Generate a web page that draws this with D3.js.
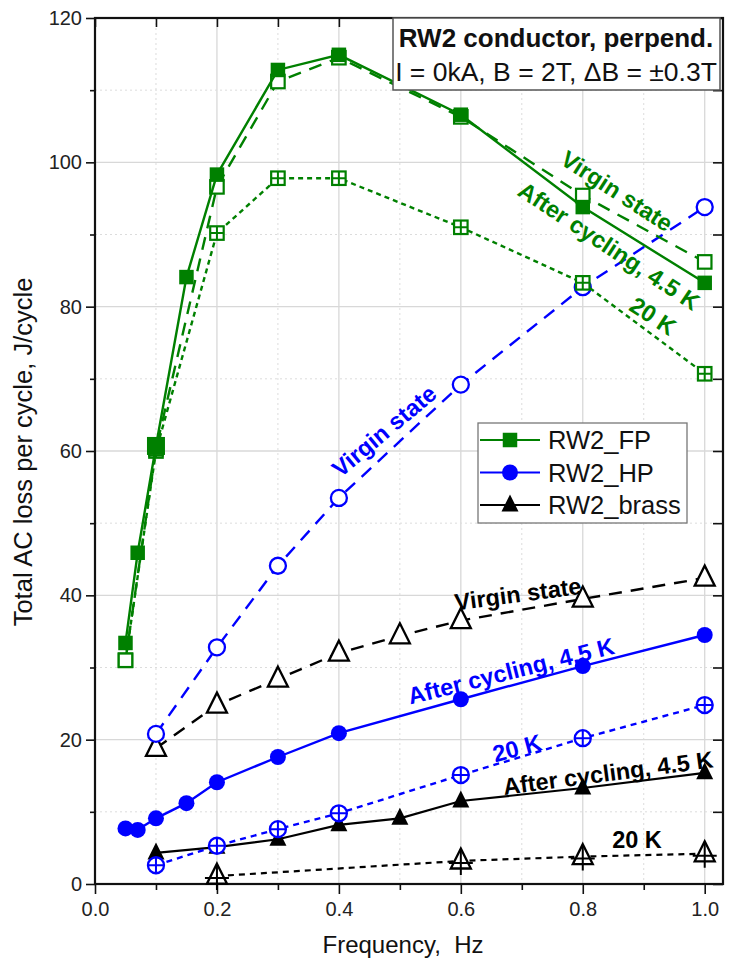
<!DOCTYPE html>
<html><head><meta charset="utf-8">
<script src="https://cdn.jsdelivr.net/npm/d3@7"></script>
<style>
html,body{margin:0;padding:0;background:#fff;}
svg text{font-family:"Liberation Sans",Arial,sans-serif;}
</style></head>
<body><svg id="c" width="730" height="968"></svg>
<script>
// ---- data ----
const fpAfterX   = [0.05,0.07,0.1,0.15,0.2,0.3,0.4,0.6,0.8,1.0];
const fpAfterY   = [33.4,45.9,60.7,84.1,98.3,112.8,114.9,106.6,93.8,83.3];
const fpVirginX  = [0.05,0.1,0.2,0.3,0.4,0.6,0.8,1.0];
const fpVirginY  = [31.0,60.3,96.6,111.2,114.5,106.3,95.4,86.2];
const fp20X      = [0.05,0.1,0.2,0.3,0.4,0.6,0.8,1.0];
const fp20Y      = [31.0,60.0,90.2,97.8,97.8,91.0,83.3,70.7];

const hpAfterX   = [0.05,0.07,0.1,0.15,0.2,0.3,0.4,0.6,0.8,1.0];
const hpAfterY   = [7.7,7.5,9.1,11.2,14.1,17.6,20.9,25.6,30.2,34.5];
const hpVirginX  = [0.1,0.2,0.3,0.4,0.6,0.8,1.0];
const hpVirginY  = [20.8,32.8,44.1,53.5,69.2,82.7,93.8];
const hp20X      = [0.1,0.2,0.3,0.4,0.6,0.8,1.0];
const hp20Y      = [2.6,5.3,7.6,9.8,15.1,20.2,24.8];

const brAfterX   = [0.1,0.2,0.3,0.4,0.5,0.6,0.8,1.0];
const brAfterY   = [4.3,5.1,6.2,8.2,9.1,11.5,13.3,15.4];
const brVirginX  = [0.1,0.2,0.3,0.4,0.5,0.6,0.8,1.0];
const brVirginY  = [18.8,24.8,28.4,32.0,34.4,36.5,39.5,42.4];
const br20X      = [0.2,0.6,0.8,1.0];
const br20Y      = [1.1,3.2,3.8,4.2];

const xMajorTicks = [0,0.2,0.4,0.6,0.8,1.0];
const xMinorTicks = [0.1,0.3,0.5,0.7,0.9];
const yMajorTicks = [0,20,40,60,80,100,120];
const yMinorTicks = [10,30,50,70,90,110];
const legendLabels = ["RW2_FP","RW2_HP","RW2_brass"];

// ---- layout ----
const svg = d3.select("#c");
const L=95, R=723, T=18, B=884;
const x = d3.scaleLinear().domain([0,1.03]).range([L,R]);
const y = d3.scaleLinear().domain([0,120]).range([B,T]);
const GREEN="#008000", BLUE="#0000ff", BLACK="#000";

// grid
const g = svg.append("g");
g.selectAll(".vmaj").data(xMajorTicks.filter(d=>d>0)).join("line")
  .attr("x1",d=>x(d)).attr("x2",d=>x(d)).attr("y1",T).attr("y2",B)
  .attr("stroke","#d8d8d8").attr("stroke-width",1.3);
g.selectAll(".vmin").data(xMinorTicks).join("line")
  .attr("x1",d=>x(d)).attr("x2",d=>x(d)).attr("y1",T).attr("y2",B)
  .attr("stroke","#dcdcdc").attr("stroke-width",1).attr("stroke-dasharray","2,3");
g.selectAll(".hmaj").data(yMajorTicks.filter(d=>d>0&&d<120)).join("line")
  .attr("y1",d=>y(d)).attr("y2",d=>y(d)).attr("x1",L).attr("x2",R)
  .attr("stroke","#d8d8d8").attr("stroke-width",1.3);
g.selectAll(".hmin").data(yMinorTicks).join("line")
  .attr("y1",d=>y(d)).attr("y2",d=>y(d)).attr("x1",L).attr("x2",R)
  .attr("stroke","#dcdcdc").attr("stroke-width",1).attr("stroke-dasharray","2,3");

// axes
const fmt = d3.format(".1f");
const axB = svg.append("g").attr("transform",`translate(0,${B})`)
  .call(d3.axisBottom(x).tickValues(xMajorTicks).tickFormat(fmt).tickSize(10).tickPadding(8));
svg.append("g").attr("transform",`translate(0,${B})`)
  .call(d3.axisBottom(x).tickValues(xMinorTicks).tickFormat("").tickSize(6));
const axL = svg.append("g").attr("transform",`translate(${L},0)`)
  .call(d3.axisLeft(y).tickValues(yMajorTicks).tickFormat(d3.format("d")).tickSize(9).tickPadding(4));
svg.append("g").attr("transform",`translate(${L},0)`)
  .call(d3.axisLeft(y).tickValues(yMinorTicks).tickFormat("").tickSize(5));
svg.append("g").attr("transform",`translate(0,${T})`)
  .call(d3.axisBottom(x).tickValues(xMajorTicks.concat(xMinorTicks)).tickFormat("").tickSize(9));
svg.append("g").attr("transform",`translate(${R},0)`)
  .call(d3.axisLeft(y).tickValues(yMajorTicks.concat(yMinorTicks)).tickFormat("").tickSize(10));
svg.selectAll(".domain").remove();
svg.selectAll(".tick line").attr("stroke","#111").attr("stroke-width",1.6);
axB.selectAll("text").attr("font-size",20).attr("fill","#222");
axL.selectAll("text").attr("font-size",20).attr("fill","#222");
svg.append("rect").attr("x",L).attr("y",T).attr("width",R-L).attr("height",B-T)
  .attr("fill","none").attr("stroke","#111").attr("stroke-width",2.2);

// axis titles
svg.append("text").attr("x",(L+R)/2-6).attr("y",953).attr("text-anchor","middle")
  .style("white-space","pre").attr("font-size",24).attr("fill","#111").text("Frequency,  Hz");
svg.append("text").attr("transform",`translate(32,452) rotate(-90)`).attr("text-anchor","middle")
  .attr("font-size",25.5).attr("fill","#111").text("Total AC loss per cycle, J/cycle");

// ---- series ----
const line = d3.line().x(d=>x(d[0])).y(d=>y(d[1]));
const plot = svg.append("g");
function series(xs, ys, color, dash, marker, width){
  const pts = xs.map((v,i)=>[v,ys[i]]);
  plot.append("path").datum(pts).attr("d",line).attr("fill","none")
    .attr("stroke",color).attr("stroke-width",width||2.4).attr("stroke-dasharray",dash);
  const m = plot.append("g");
  pts.forEach(p=>drawMarker(m, x(p[0]), y(p[1]), marker, color));
}
function drawMarker(m, cx, cy, type, color){
  if(type==="sqFill"){ const s=14.5; m.append("rect").attr("x",cx-s/2).attr("y",cy-s/2).attr("width",s).attr("height",s).attr("fill",color); }
  if(type==="sqOpen"){ const s=13.5; m.append("rect").attr("x",cx-s/2).attr("y",cy-s/2).attr("width",s).attr("height",s).attr("fill","#fff").attr("stroke",color).attr("stroke-width",2.2); }
  if(type==="sqCross"){ const s=13.5; m.append("rect").attr("x",cx-s/2).attr("y",cy-s/2).attr("width",s).attr("height",s).attr("fill","#fff").attr("stroke",color).attr("stroke-width",2.2);
    m.append("path").attr("d",`M${cx-s/2},${cy}H${cx+s/2}M${cx},${cy-s/2}V${cy+s/2}`).attr("stroke",color).attr("stroke-width",2); }
  if(type==="ciFill"){ m.append("circle").attr("cx",cx).attr("cy",cy).attr("r",8).attr("fill",color); }
  if(type==="ciOpen"){ m.append("circle").attr("cx",cx).attr("cy",cy).attr("r",8).attr("fill","#fff").attr("stroke",color).attr("stroke-width",2.3); }
  if(type==="ciCross"){ m.append("circle").attr("cx",cx).attr("cy",cy).attr("r",8).attr("fill","#fff").attr("stroke",color).attr("stroke-width",2.3);
    m.append("path").attr("d",`M${cx-8},${cy}H${cx+8}M${cx},${cy-8}V${cy+8}`).attr("stroke",color).attr("stroke-width",2); }
  const tri = (s)=>`M${cx},${cy-s*0.62}L${cx+s/2},${cy+s*0.38}L${cx-s/2},${cy+s*0.38}Z`;
  if(type==="trFill"){ m.append("path").attr("d",tri(17)).attr("fill",color); }
  if(type==="trOpen"){ m.append("path").attr("d",tri(20)).attr("fill","#fff").attr("stroke",color).attr("stroke-width",2.3); }
  if(type==="trCross"){ m.append("path").attr("d",tri(20)).attr("fill","#fff").attr("stroke",color).attr("stroke-width",2.3);
    m.append("path").attr("d",`M${cx-12},${cy+2}H${cx+12}M${cx},${cy-12}V${cy+14}`).attr("stroke",color).attr("stroke-width",2); }
}

// brass
series(br20X, br20Y, BLACK, "6,5", "trCross", 2.2);
series(brVirginX, brVirginY, BLACK, "13,9", "trOpen", 2.4);
series(brAfterX, brAfterY, BLACK, null, "trFill", 2.2);
// HP
series(hp20X, hp20Y, BLUE, "6,5", "ciCross", 2.4);
series(hpVirginX, hpVirginY, BLUE, "13,9", "ciOpen", 2.4);
series(hpAfterX, hpAfterY, BLUE, null, "ciFill", 2.4);
// FP
series(fp20X, fp20Y, GREEN, "5,4", "sqCross", 2.4);
series(fpVirginX, fpVirginY, GREEN, "13,9", "sqOpen", 2.4);
series(fpAfterX, fpAfterY, GREEN, null, "sqFill", 2.4);
// the larger filled square at 0.1 Hz
{ const i = fpAfterX.indexOf(0.1); const s=18;
  plot.append("rect").attr("x",x(fpAfterX[i])-s/2).attr("y",y(fpAfterY[i])-s/2).attr("width",s).attr("height",s).attr("fill",GREEN); }

// ---- annotations ----
const ann = [
  {t:"Virgin state", c:GREEN, x:617, y:191, a:33},
  {t:"After cycling, 4.5 K", c:GREEN, x:609, y:246, a:33.5},
  {t:"20 K", c:GREEN, x:653, y:316, a:33},
  {t:"Virgin state", c:BLUE, x:384, y:431, a:-40},
  {t:"Virgin state", c:BLACK, x:518, y:594, a:-7.5},
  {t:"After cycling, 4.5 K", c:BLUE, x:511, y:671, a:-14},
  {t:"20 K", c:BLUE, x:517, y:748, a:-15},
  {t:"After cycling, 4.5 K", c:BLACK, x:608, y:773, a:-7.5},
  {t:"20 K", c:BLACK, x:637, y:840, a:0}
];
svg.append("g").selectAll("text").data(ann).join("text")
  .attr("transform",d=>`translate(${d.x},${d.y}) rotate(${d.a})`)
  .attr("text-anchor","middle").attr("dy","0.35em")
  .attr("font-size",23.5).attr("font-weight","bold").attr("fill",d=>d.c).text(d=>d.t);

// ---- info box ----
svg.append("rect").attr("x",393).attr("y",18).attr("width",327).attr("height",72)
  .attr("fill","#fff").attr("stroke","#555").attr("stroke-width",1.5);
svg.append("text").attr("x",556).attr("y",47).attr("text-anchor","middle")
  .attr("font-size",26).attr("font-weight","bold").attr("fill","#111").text("RW2 conductor, perpend.");
svg.append("text").attr("x",556).attr("y",81).attr("text-anchor","middle")
  .attr("font-size",26.5).attr("fill","#111").text("I = 0kA, B = 2T, \u0394B = \u00b10.3T");

// ---- legend ----
const leg = svg.append("g");
leg.append("rect").attr("x",478).attr("y",423).attr("width",209).attr("height",100)
  .attr("fill","#fff").attr("stroke","#777").attr("stroke-width",1.3);
const legColors=[GREEN,BLUE,BLACK], legMarkers=["sqFill","ciFill","trFill"];
legendLabels.forEach((lab,i)=>{
  const ly = 440 + i*32.5;
  leg.append("line").attr("x1",480).attr("x2",540).attr("y1",ly).attr("y2",ly).attr("stroke",legColors[i]).attr("stroke-width",2.2);
  drawMarker(leg, 510, ly, legMarkers[i], legColors[i]);
  leg.append("text").attr("x",548).attr("y",ly).attr("dy","0.36em").attr("font-size",25.5).attr("fill","#111").text(lab);
});
</script></body></html>
